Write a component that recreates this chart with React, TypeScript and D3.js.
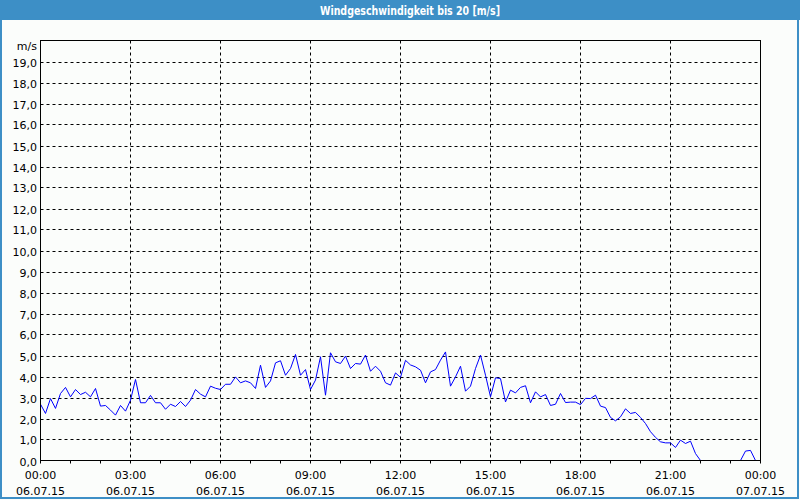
import React from "react";
import * as d3 from "d3";

const title = "Windgeschwindigkeit bis 20 [m/s]";
const unitLabel = "m/s";
const startHour = 0;
const stepMinutes = 10;
const speedValues: number[] = [
  2.68, 2.24, 2.95, 2.48, 3.19, 3.48, 3.03, 3.38, 3.14, 3.25,
  3.03, 3.43, 2.59, 2.62, 2.4, 2.16, 2.62, 2.35, 2.87, 3.86,
  2.75, 2.75, 3.1, 2.75, 2.75, 2.44, 2.68, 2.57, 2.81, 2.57,
  2.87, 3.38, 3.16, 3.03, 3.54, 3.44, 3.38, 3.63, 3.63, 3.98,
  3.7, 3.79, 3.7, 3.43, 4.54, 3.48, 3.79, 4.65, 4.75, 4.06,
  4.38, 5.05, 4.06, 4.33, 3.38, 3.83, 4.94, 3.11, 5.13, 4.7,
  4.62, 4.97, 4.38, 4.62, 4.59, 5.02, 4.25, 4.49, 4.25, 3.7,
  3.59, 4.17, 3.96, 4.77, 4.55, 4.46, 4.3, 3.7, 4.22, 4.33,
  4.78, 5.17, 3.54, 3.98, 4.49, 3.3, 3.54, 4.38, 5.02, 4.06,
  3.03, 3.94, 3.9, 2.79, 3.35, 3.22, 3.48, 3.56, 2.75, 3.27,
  3.03, 3.14, 2.62, 2.68, 3.19, 2.76, 2.78, 2.78, 2.66, 2.96,
  2.95, 3.11, 2.59, 2.52, 2.05, 1.89, 2.08, 2.46, 2.24, 2.29,
  2.05, 1.76, 1.37, 1.1, 0.89, 0.84, 0.84, 0.62, 0.97, 0.81,
  0.92, 0.33, 0, 0, 0, 0, 0, 0, 0, 0,
  0, 0.45, 0.48, 0,
];
const yTicks = d3.range(0, 20, 1);
const xTickHours = [0, 3, 6, 9, 12, 15, 18, 21, 24];
const xTimeLabels = ["00:00", "03:00", "06:00", "09:00", "12:00", "15:00", "18:00", "21:00", "00:00"];
const xDateLabels = ["06.07.15", "06.07.15", "06.07.15", "06.07.15", "06.07.15", "06.07.15", "06.07.15", "06.07.15", "07.07.15"];
const minorTickHours = d3.range(0, 25, 1);

const W = 800;
const H = 500;
const left = 40.5;
const right = 760.5;
const top = 40.5;
const bottom = 460.5;

export default function App() {
  const x = d3.scaleLinear().domain([0, 24]).range([left, right]);
  const y = d3.scaleLinear().domain([0, 20]).range([bottom, top]);
  const points: [number, number][] = speedValues.map((v, i) => [startHour + (i * stepMinutes) / 60, v]);
  const line = d3
    .line<[number, number]>()
    .x((d) => x(d[0]))
    .y((d) => y(d[1]));
  const font = "Tahoma, 'DejaVu Sans', sans-serif";
  return (
    <svg
      width={W}
      height={H}
      style={{ position: "absolute", left: 0, top: 0, display: "block" }}
      fontFamily={font}
    >
      <rect x={0} y={0} width={W} height={H} fill="#fbfdfb" />
      <rect x={0} y={0} width={W} height={20} fill="#3d8fc6" />
      <rect x={1} y={1} width={W - 3} height={H - 3} fill="none" stroke="#3d8fc6" strokeWidth={2} />
      <text x={410} y={15} textAnchor="middle" fill="#ffffff" fontSize={11.5} fontWeight="bold" fontFamily="'DejaVu Sans', sans-serif" textLength={180} lengthAdjust="spacingAndGlyphs">
        {title}
      </text>
      {/* grid */}
      <g stroke="#000" strokeWidth={1} strokeDasharray="3,3">
        {yTicks.filter((t) => t > 0).map((t) => (
          <line key={"gy" + t} x1={left} x2={right} y1={Math.round(y(t)) + 0.5} y2={Math.round(y(t)) + 0.5} />
        ))}
        {xTickHours.filter((h) => h > 0 && h < 24).map((h) => (
          <line key={"gx" + h} x1={x(h)} x2={x(h)} y1={top} y2={bottom} />
        ))}
      </g>
      <path d={line(points) || ""} fill="none" stroke="#0000ff" strokeWidth={1} />
      <rect x={left} y={top} width={right - left} height={bottom - top} fill="none" stroke="#000" strokeWidth={1} />
      <g stroke="#000" strokeWidth={1}>
        {minorTickHours.map((h) => (
          <line key={"mt" + h} x1={x(h)} x2={x(h)} y1={bottom} y2={bottom + 3} />
        ))}
      </g>
      <g fontSize={11} fill="#000" fontFamily="'DejaVu Sans', sans-serif">
        {yTicks.map((t) => (
          <text key={"yl" + t} x={37} y={Math.round(y(t)) + 4.5} textAnchor="end">
            {d3.format(".1f")(t).replace(".", ",")}
          </text>
        ))}
        <text x={37} y={y(20) + 9} textAnchor="end">
          {unitLabel}
        </text>
        {xTickHours.map((h, i) => (
          <g key={"xl" + h}>
            <text x={x(h)} y={479} textAnchor="middle">
              {xTimeLabels[i]}
            </text>
            <text x={x(h)} y={495} textAnchor="middle">
              {xDateLabels[i]}
            </text>
          </g>
        ))}
      </g>
    </svg>
  );
}
